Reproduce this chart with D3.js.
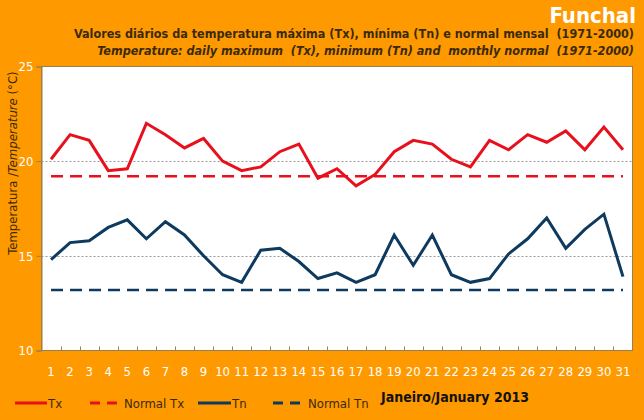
<!DOCTYPE html>
<html>
<head>
<meta charset="utf-8">
<script src="https://cdn.jsdelivr.net/npm/d3@7"></script>
<style>
  body { margin: 0; background: #ff9900; }
  svg { display: block; }
  text { font-family: "Liberation Sans Narrow", "Arial Narrow", "DejaVu Sans Condensed", sans-serif; white-space: pre; }
</style>
</head>
<body>
<div id="chart"></div>
<script>
var days = d3.range(1, 32);
var tx = [20.1, 21.4, 21.1, 19.5, 19.6, 22.0, 21.4, 20.7, 21.2, 20.0, 19.5, 19.7, 20.5, 20.9, 19.1, 19.6,
          18.7, 19.3, 20.5, 21.1, 20.9, 20.1, 19.7, 21.1, 20.6, 21.4, 21.0, 21.6, 20.6, 21.8, 20.6];
var tn = [14.8, 15.7, 15.8, 16.5, 16.9, 15.9, 16.8, 16.1, 15.0, 14.0, 13.6, 15.3, 15.4, 14.7, 13.8, 14.1,
          13.6, 14.0, 16.1, 14.5, 16.1, 14.0, 13.6, 13.8, 15.1, 15.9, 17.0, 15.4, 16.4, 17.2, 13.9];
var normalTx = 19.2;
var normalTn = 13.2;
var yTicks = [10, 15, 20, 25];

var width = 644, height = 420;
var plot = { left: 41.5, top: 66.5, right: 632.5, bottom: 350.5 };
var red = "#e8101c", navy = "#0d3a5e", ink = "#3a2a0a", frame = "#9a7e4e";

var svg = d3.select("#chart").append("svg")
    .attr("width", width)
    .attr("height", height);

svg.append("rect").attr("width", width).attr("height", height).attr("fill", "#ff9900");

var x = d3.scaleBand().domain(days).range([plot.left, plot.right]);
var y = d3.scaleLinear().domain([10, 25]).range([plot.bottom, plot.top]);

svg.append("rect")
    .attr("x", plot.left).attr("y", plot.top)
    .attr("width", plot.right - plot.left).attr("height", plot.bottom - plot.top)
    .attr("fill", "#fff").attr("stroke", frame).attr("stroke-width", 1);

// dotted grid at 15 and 20
svg.selectAll(".grid")
    .data([15, 20])
    .enter().append("line")
    .attr("x1", plot.left).attr("x2", plot.right)
    .attr("y1", d => Math.round(y(d)) + 0.5).attr("y2", d => Math.round(y(d)) + 0.5)
    .attr("stroke", "#999").attr("stroke-dasharray", "2,2");

// y axis
var yAxis = svg.append("g")
    .attr("transform", "translate(" + plot.left + ",0)")
    .call(d3.axisLeft(y).tickValues(yTicks).tickSize(5).tickPadding(3).tickFormat(d3.format("d")));
yAxis.select(".domain").attr("stroke", frame);
yAxis.selectAll(".tick line").attr("stroke", frame);
yAxis.selectAll("text").attr("fill", "#fff").style("font-size", "13px");

// x axis: ticks between categories, pointing inward
var xb = svg.append("g");
xb.selectAll("line")
    .data(days.slice(1))
    .enter().append("line")
    .attr("x1", d => Math.round(x(d)) + 0.5).attr("x2", d => Math.round(x(d)) + 0.5)
    .attr("y1", plot.bottom).attr("y2", plot.bottom - 4)
    .attr("stroke", frame);
xb.selectAll("text")
    .data(days)
    .enter().append("text")
    .attr("x", d => x(d) + x.bandwidth() / 2)
    .attr("y", 376)
    .attr("text-anchor", "middle")
    .attr("fill", "#fff")
    .style("font-size", "13px")
    .text(d => d);

var cx = d => x(d) + x.bandwidth() / 2;
var line = d3.line().x((d, i) => cx(days[i])).y(d => y(d));

svg.append("path").datum(days.map(() => normalTx)).attr("d", line)
    .attr("fill", "none").attr("stroke", red).attr("stroke-width", 2.5).attr("stroke-dasharray", "12,7");
svg.append("path").datum(days.map(() => normalTn)).attr("d", line)
    .attr("fill", "none").attr("stroke", navy).attr("stroke-width", 2.5).attr("stroke-dasharray", "12,7");
svg.append("path").datum(tx).attr("d", line)
    .attr("fill", "none").attr("stroke", red).attr("stroke-width", 3);
svg.append("path").datum(tn).attr("d", line)
    .attr("fill", "none").attr("stroke", navy).attr("stroke-width", 3);

// titles
svg.append("text")
    .attr("x", 636).attr("y", 23)
    .attr("text-anchor", "end")
    .attr("fill", "#fff")
    .style("font-size", "22px").style("font-weight", "bold")
    .text("Funchal");
svg.append("text")
    .attr("x", 634).attr("y", 38)
    .attr("text-anchor", "end")
    .attr("fill", ink)
    .style("font-size", "12.5px").style("font-weight", "bold")
    .text("Valores diários da temperatura máxima (Tx), mínima (Tn) e normal mensal  (1971-2000)");
svg.append("text")
    .attr("x", 634).attr("y", 55)
    .attr("text-anchor", "end")
    .attr("fill", ink)
    .style("font-size", "12.5px").style("font-weight", "bold").style("font-style", "italic")
    .text("Temperature: daily maximum  (Tx), minimum (Tn) and  monthly normal  (1971-2000)");

var ytitle = svg.append("text")
    .attr("transform", "translate(17,163) rotate(-90)")
    .attr("text-anchor", "middle")
    .attr("fill", ink)
    .style("font-size", "13px");
ytitle.append("tspan").text("Temperatura /");
ytitle.append("tspan").style("font-style", "italic").text("Temperature");
ytitle.append("tspan").text(" (°C)");

// legend
var legend = [
    { name: "Tx", color: red, dash: null, x0: 15, x1: 47 },
    { name: "Normal Tx", color: red, dash: "10,7", x0: 90, x1: 118 },
    { name: "Tn", color: navy, dash: null, x0: 198, x1: 231 },
    { name: "Normal Tn", color: navy, dash: "10,7", x0: 273, x1: 302 }
];
var lg = svg.selectAll(".lg").data(legend).enter().append("g");
lg.append("line")
    .attr("x1", d => d.x0).attr("x2", d => d.x1)
    .attr("y1", 403).attr("y2", 403)
    .attr("stroke", d => d.color).attr("stroke-width", 3)
    .attr("stroke-dasharray", d => d.dash);
lg.append("text")
    .attr("x", d => d.x1 + (d.dash ? 6 : 1)).attr("y", 408)
    .attr("fill", ink)
    .style("font-size", "13px")
    .text(d => d.name);

svg.append("text")
    .attr("x", 381).attr("y", 402)
    .attr("fill", "#111")
    .style("font-size", "14px").style("font-weight", "bold")
    .text("Janeiro/January 2013");
</script>
</body>
</html>
